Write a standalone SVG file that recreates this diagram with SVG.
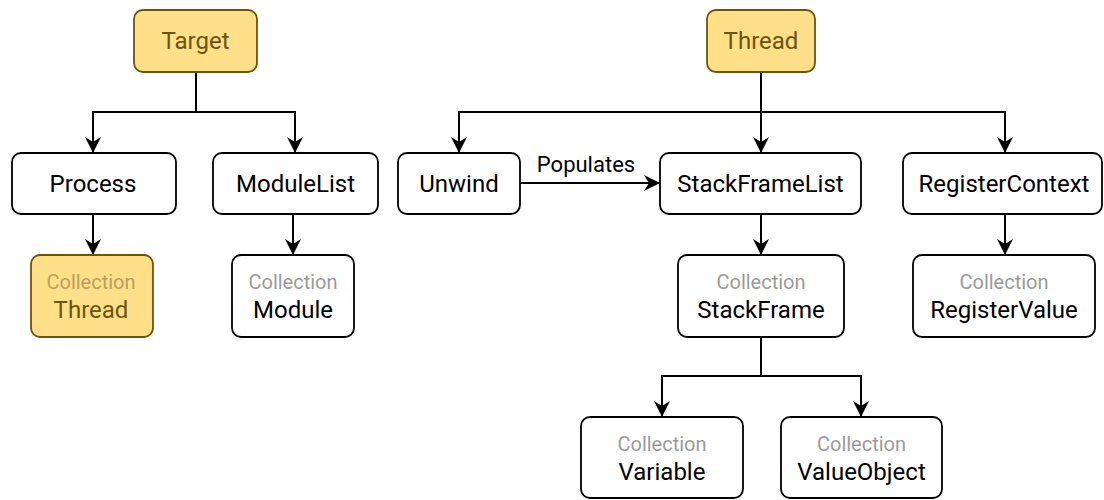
<svg xmlns="http://www.w3.org/2000/svg" width="1104" height="500" viewBox="0 0 1104 500">
<style>
.box{fill:#ffffff;stroke:#000000;stroke-width:1.8}
.hl{fill:#ffdf88;stroke:#6b5410;stroke-width:1.8}
.t{font-family:Roboto,"Liberation Sans",sans-serif;font-size:24px;fill:#000;text-anchor:middle;dominant-baseline:central}
.th{fill:#6b5410}
.c{font-family:Roboto,"Liberation Sans",sans-serif;font-size:20px;fill:#9a9a9a;text-anchor:middle;dominant-baseline:central}
.ch{fill:#b8a060}
.e{fill:none;stroke:#000;stroke-width:2}
.lbl{font-family:Roboto,"Liberation Sans",sans-serif;font-size:22px;fill:#000;text-anchor:middle;dominant-baseline:central}
</style>
<defs>
<marker id="arr" viewBox="0 0 16 16" refX="15" refY="8" markerWidth="16" markerHeight="16" markerUnits="userSpaceOnUse" orient="auto">
<path d="M0,0 L16,8 L0,16 L5,8 Z" fill="#000"/>
</marker>
</defs>
<g id="connectors">
<path class="e" d="M196,72 V112 H93 V152" marker-end="url(#arr)"/>
<path class="e" d="M196,112 H295 V152" marker-end="url(#arr)"/>
<path class="e" d="M93,214 V254" marker-end="url(#arr)"/>
<path class="e" d="M293,214 V254" marker-end="url(#arr)"/>
<path class="e" d="M761,72 V152" marker-end="url(#arr)"/>
<path class="e" d="M761,112 H459 V152" marker-end="url(#arr)"/>
<path class="e" d="M761,112 H1005 V152" marker-end="url(#arr)"/>
<path class="e" d="M520,183 H659" marker-end="url(#arr)"/>
<text class="lbl" x="586" y="164">Populates</text>
<path class="e" d="M761,214 V254" marker-end="url(#arr)"/>
<path class="e" d="M1005,214 V254" marker-end="url(#arr)"/>
<path class="e" d="M761,337 V376 H662 V416" marker-end="url(#arr)"/>
<path class="e" d="M761,376 H861 V416" marker-end="url(#arr)"/>
</g>
<g id="target"><rect class="hl" x="134" y="10" width="123" height="62" rx="9"/><text class="t th" x="195.5" y="41">Target</text></g>
<g id="process"><rect class="box" x="12" y="153" width="164" height="61" rx="9"/><text class="t" x="93" y="184">Process</text></g>
<g id="modulelist"><rect class="box" x="213" y="153" width="165" height="61" rx="9"/><text class="t" x="295.5" y="184">ModuleList</text></g>
<g id="collection-thread"><rect class="hl" x="31" y="255" width="122" height="82" rx="9"/><text class="c ch" x="91" y="282">Collection</text><text class="t th" x="91" y="310">Thread</text></g>
<g id="collection-module"><rect class="box" x="232" y="255" width="122" height="82" rx="9"/><text class="c" x="293" y="282">Collection</text><text class="t" x="293" y="310">Module</text></g>
<g id="thread"><rect class="hl" x="707" y="10" width="108" height="62" rx="9"/><text class="t th" x="761" y="41">Thread</text></g>
<g id="unwind"><rect class="box" x="398" y="153" width="122" height="61" rx="9"/><text class="t" x="459" y="184">Unwind</text></g>
<g id="stackframelist"><rect class="box" x="660" y="153" width="201" height="61" rx="9"/><text class="t" x="760.5" y="184">StackFrameList</text></g>
<g id="registercontext"><rect class="box" x="903" y="153" width="199" height="61" rx="9"/><text class="t" x="1004" y="184">RegisterContext</text></g>
<g id="collection-stackframe"><rect class="box" x="678" y="255" width="166" height="82" rx="9"/><text class="c" x="761" y="282">Collection</text><text class="t" x="761" y="310">StackFrame</text></g>
<g id="collection-registervalue"><rect class="box" x="913" y="255" width="182" height="82" rx="9"/><text class="c" x="1004" y="282">Collection</text><text class="t" x="1004" y="310">RegisterValue</text></g>
<g id="collection-variable"><rect class="box" x="581" y="417" width="162" height="81" rx="9"/><text class="c" x="662" y="444">Collection</text><text class="t" x="662" y="472">Variable</text></g>
<g id="collection-valueobject"><rect class="box" x="781" y="417" width="161" height="81" rx="9"/><text class="c" x="861.5" y="444">Collection</text><text class="t" x="861.5" y="472">ValueObject</text></g>
</svg>
